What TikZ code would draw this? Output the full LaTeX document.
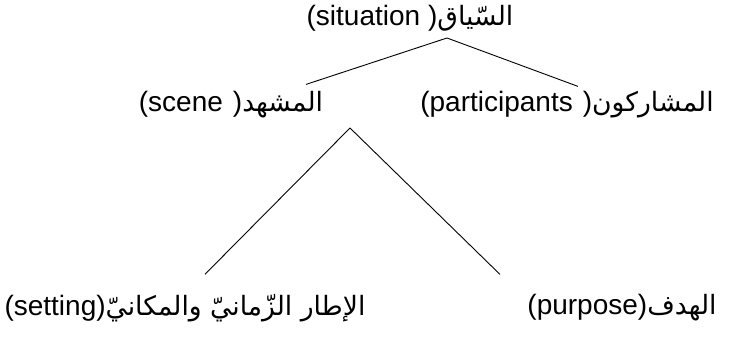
\documentclass[tikz,border=0pt]{standalone}
\usepackage{fontspec}
\setmainfont{Liberation Sans}
\newfontfamily\arabicfont[Script=Arabic,Scale=0.95]{DejaVu Sans}
\TeXXeTstate=1
\newcommand{\argap}{\hspace{10pt}}
\begin{document}
\begin{tikzpicture}[x=1pt,y=1pt,
  label/.style={inner sep=0pt, font=\fontsize{28}{32}\selectfont},
  branch/.style={line width=0.9pt}]
  \useasboundingbox (0,0) rectangle (746,344);
  % top: situation
  \node[label] (sit) at (410,326) {(situation )\arabicfont\beginR السّياق\endR};
  % middle row
  \node[label] (scene) at (231,239) {(scene\argap)\arabicfont\beginR المشهد\endR};
  \node[label] (part) at (567,239) {(participants\argap)\arabicfont\beginR المشاركون\endR};
  % bottom row
  \node[label] (setting) at (185,36) {(setting)\arabicfont\beginR الإطار الزّمانيّ والمكانيّ\endR};
  \node[label] (purpose) at (622,36) {(purpose)\arabicfont\beginR الهدف\endR};
  % forks under the labels
  \coordinate (sitfork) at (447,306);
  \coordinate (scenefork) at (350,216);
  \draw[branch] (sitfork) -- ([xshift=75pt,yshift=7pt]scene.north);
  \draw[branch] (sitfork) -- ([xshift=11pt,yshift=5pt]part.north);
  \draw[branch] (scenefork) -- ([xshift=20pt,yshift=20pt]setting.north);
  \draw[branch] (scenefork) -- ([xshift=-122pt,yshift=20pt]purpose.north);
\end{tikzpicture}
\end{document}
